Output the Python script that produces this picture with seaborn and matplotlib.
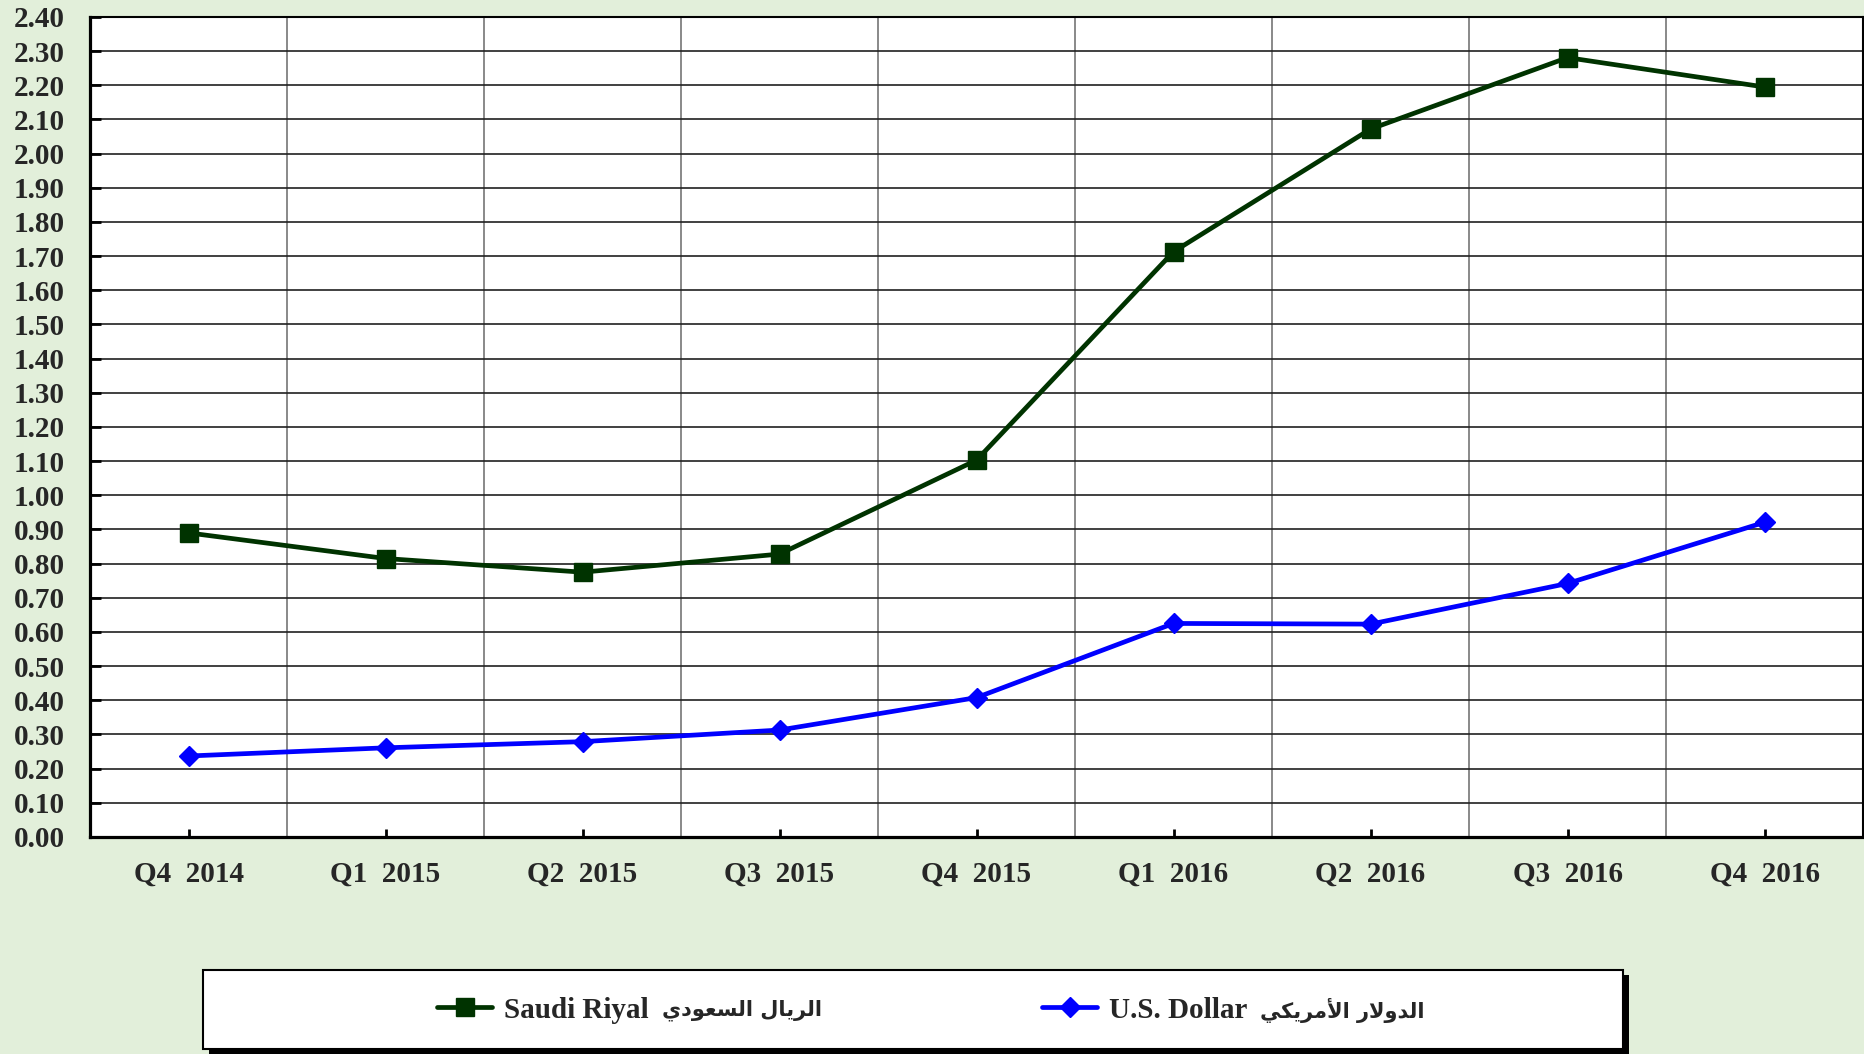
import pandas as pd
import seaborn as sns
import numpy as np
import matplotlib.pyplot as plt
from matplotlib.patches import Rectangle

quarters = ['Q4  2014', 'Q1  2015', 'Q2  2015', 'Q3  2015', 'Q4  2015',
            'Q1  2016', 'Q2  2016', 'Q3  2016', 'Q4  2016']
saudi_riyal = [0.89, 0.815, 0.775, 0.828, 1.103, 1.713, 2.072, 2.281, 2.195]
us_dollar = [0.237, 0.261, 0.279, 0.313, 0.408, 0.625, 0.623, 0.742, 0.921]
names_en = ['Saudi Riyal', 'U.S. Dollar']
names_ar = ['الريال السعودي', 'الدولار الأمريكي']

# presentation forms: isolated, final, initial, medial
ARABIC_FORMS = {
    'ا': ('\uFE8D', '\uFE8E', None, None),
    'أ': ('\uFE83', '\uFE84', None, None),
    'د': ('\uFEA9', '\uFEAA', None, None),
    'ر': ('\uFEAD', '\uFEAE', None, None),
    'و': ('\uFEED', '\uFEEE', None, None),
    'س': ('\uFEB1', '\uFEB2', '\uFEB3', '\uFEB4'),
    'ع': ('\uFEC9', '\uFECA', '\uFECB', '\uFECC'),
    'ك': ('\uFED9', '\uFEDA', '\uFEDB', '\uFEDC'),
    'ل': ('\uFEDD', '\uFEDE', '\uFEDF', '\uFEE0'),
    'م': ('\uFEE1', '\uFEE2', '\uFEE3', '\uFEE4'),
    'ي': ('\uFEF1', '\uFEF2', '\uFEF3', '\uFEF4'),
    'لا': ('\uFEFB', '\uFEFC', None, None),
    'لأ': ('\uFEF7', '\uFEF8', None, None),
}


def shape_arabic(text):
    # matplotlib does no arabic shaping / bidi, so do it by hand
    words = []
    for word in text.split(' '):
        letters = []
        i = 0
        while i < len(word):
            if word[i:i + 2] in ARABIC_FORMS:
                letters.append(word[i:i + 2])
                i += 2
            else:
                letters.append(word[i])
                i += 1
        glyphs = []
        for k, ch in enumerate(letters):
            iso, fin, ini, med = ARABIC_FORMS[ch]
            prev = k > 0 and ARABIC_FORMS[letters[k - 1]][2] is not None
            nxt = k < len(letters) - 1 and ini is not None
            if prev and nxt:
                glyphs.append(med)
            elif prev:
                glyphs.append(fin)
            elif nxt:
                glyphs.append(ini)
            else:
                glyphs.append(iso)
        words.append(''.join(glyphs))
    return ' '.join(words)[::-1]


df = pd.DataFrame({
    'quarter': quarters * 2,
    'value': saudi_riyal + us_dollar,
    'series': [names_en[0]] * len(quarters) + [names_en[1]] * len(quarters),
})

sns.set_theme(style='white')
plt.rcParams['font.family'] = ['Liberation Serif', 'DejaVu Sans']
plt.rcParams['font.weight'] = 'bold'

bg = '#E2EFDA'
colors = {names_en[0]: '#003300', names_en[1]: '#0000FF'}
fig = plt.figure(figsize=(18.64, 10.54), dpi=100, facecolor=bg)
ax = fig.add_axes([0.0483, 0.2059, 0.9512, 0.778])
ax.set_facecolor('white')

sns.lineplot(
    data=df, x='quarter', y='value', hue='series', style='series',
    palette=colors,
    markers={names_en[0]: 's', names_en[1]: 'D'},
    dashes=False, linewidth=3.4, markersize=12.5, markeredgewidth=1,
    sort=False, legend=False, ax=ax, zorder=3
)
for line, name in zip(ax.lines[:2], names_en):
    line.set_markeredgecolor(colors[name])
ax.lines[1].set_markersize(10.5)

ax.set_xlim(-0.5, len(quarters) - 0.5)
ax.set_ylim(0, 2.4)
ax.set_yticks(np.arange(0, 2.41, 0.1))
ax.set_yticklabels([f'{v:.2f}' for v in np.arange(0, 2.41, 0.1)])
ax.set_xticks(range(len(quarters)))
ax.set_xticklabels(quarters)
ax.set_xticks(np.arange(0.5, len(quarters) - 1, 1), minor=True)
ax.set_xlabel('')
ax.set_ylabel('')

ax.grid(axis='y', which='major', color='#202020', linewidth=1.2, zorder=1)
ax.grid(axis='x', which='minor', color='#808080', linewidth=1.3, zorder=1)
ax.grid(axis='x', which='major', visible=False)
ax.set_axisbelow(True)

ax.tick_params(axis='y', direction='in', length=8, width=2, color='black',
               labelsize=21, pad=18, left=True)
ax.tick_params(axis='x', which='major', direction='in', length=6, width=2,
               color='black', labelsize=21, pad=17, bottom=True)
ax.tick_params(axis='x', which='minor', length=0)
for lab in ax.get_xticklabels() + ax.get_yticklabels():
    lab.set_fontweight('bold')

for side in ['left', 'bottom']:
    ax.spines[side].set_linewidth(2.3)
    ax.spines[side].set_color('black')
for side in ['top', 'right']:
    ax.spines[side].set_linewidth(1.5)
    ax.spines[side].set_color('black')

# legend box with its black drop shadow
fig.patches.append(Rectangle((0.1121, -0.0005), 0.7618, 0.075, transform=fig.transFigure,
                             facecolor='black', edgecolor='none', zorder=1))
fig.patches.append(Rectangle((0.1089, 0.0047), 0.7618, 0.075, transform=fig.transFigure,
                             facecolor='white', edgecolor='black', linewidth=1.5, zorder=2))

# one legend per entry so the spacing can follow the original, arabic added after each
legend_x = [437 / 1864, 1042 / 1864]
legends = []
for line, name, lx in zip(ax.lines[:2], names_en, legend_x):
    leg = fig.legend([line], [name], loc='center left', bbox_to_anchor=(lx, 0.0417),
                     frameon=False, borderpad=0, borderaxespad=0,
                     handlelength=1.9, handletextpad=0.4,
                     prop={'size': 21, 'weight': 'bold'})
    leg.set_zorder(3)
    legends.append(leg)

fig.canvas.draw()
renderer = fig.canvas.get_renderer()
for leg, name_ar in zip(legends, names_ar):
    box = leg.get_texts()[0].get_window_extent(renderer)
    x0 = fig.transFigure.inverted().transform((box.x1 + 13, 0))[0]
    fig.text(x0, 0.0417, shape_arabic(name_ar), family='DejaVu Sans', weight='bold',
             size=15, ha='left', va='center', zorder=4)

plt.savefig('out.png', dpi=100, facecolor=bg)
